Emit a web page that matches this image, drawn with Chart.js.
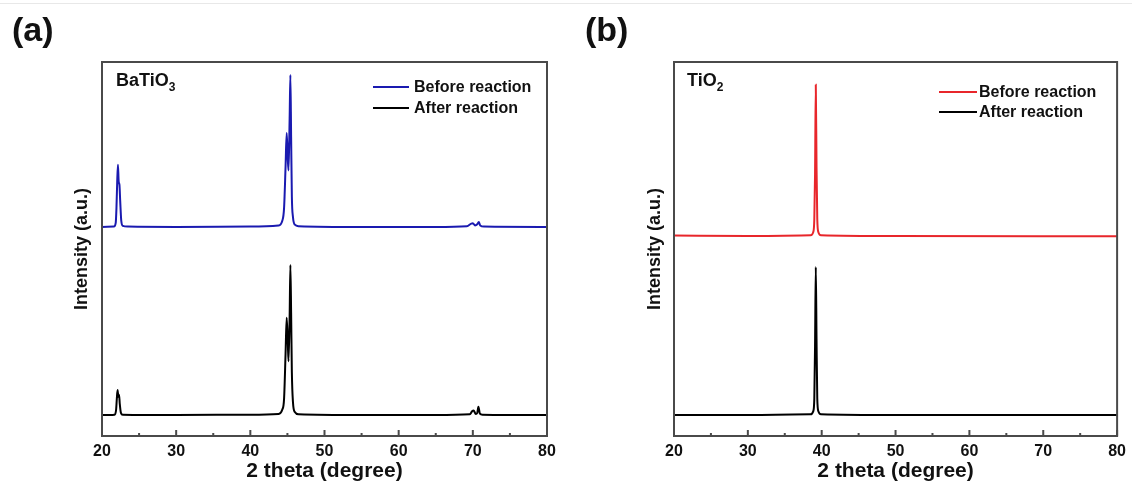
<!DOCTYPE html>
<html>
<head>
<meta charset="utf-8">
<script src="https://cdn.jsdelivr.net/npm/chart.js@4/dist/chart.umd.min.js"></script>
<style>
  body { margin: 0; background: #fff; font-family: Arial, "Liberation Sans", sans-serif; }
  #wrap { position: relative; width: 1132px; height: 486px; overflow: hidden; }
  canvas { position: absolute; top: 0; }
  .lbl { position: absolute; font-weight: bold; color: #111; white-space: nowrap; }
  .panel { font-size: 34px; line-height: 34px; }
  .name { font-size: 18px; line-height: 18px; }
  .name sub { font-size: 12px; vertical-align: -5px; line-height: 0; }
  .leg { font-size: 16px; line-height: 20px; }
  .swatch { position: absolute; height: 2px; }
  #topline { position: absolute; left: 0; top: 3px; width: 1132px; height: 1px; background: #e8e8e8; }
</style>
</head>
<body>
<div id="wrap">
  <div id="topline"></div>
  <canvas id="chart-a" width="566" height="486" style="left:0"></canvas>
  <canvas id="chart-b" width="560" height="486" style="left:572px"></canvas>

  <div class="lbl panel" style="left:12px; top:12px">(a)</div>
  <div class="lbl panel" style="left:585px; top:12px">(b)</div>

  <div class="lbl name" style="left:116px; top:71px">BaTiO<sub>3</sub></div>
  <div class="swatch" style="left:373px; top:86px; width:36px; background:#1a1ab0"></div>
  <div class="lbl leg" style="left:414px; top:77px">Before reaction</div>
  <div class="swatch" style="left:373px; top:107px; width:36px; background:#000"></div>
  <div class="lbl leg" style="left:414px; top:98px">After reaction</div>

  <div class="lbl name" style="left:687px; top:71px">TiO<sub>2</sub></div>
  <div class="swatch" style="left:939px; top:91px; width:38px; background:#e8262b"></div>
  <div class="lbl leg" style="left:979px; top:82px">Before reaction</div>
  <div class="swatch" style="left:939px; top:111px; width:38px; background:#000"></div>
  <div class="lbl leg" style="left:979px; top:102px">After reaction</div>
</div>
<script>
const xTicks = [20, 30, 40, 50, 60, 70, 80];
const minorTicks = [25, 35, 45, 55, 65, 75];

// (a) BaTiO3, before reaction (offset upward)
const batBeforeX = [20, 21.6, 21.85, 21.95, 22.05, 22.15, 22.25, 22.35, 22.45, 22.6, 22.8, 23.5, 30, 40, 43.8, 44.3, 44.55, 44.75, 44.9, 45.05, 45.15, 45.3, 45.4, 45.5, 45.6, 45.75, 46.0, 46.5, 55, 65, 69.2, 69.8, 70.0, 70.3, 70.6, 70.8, 71.0, 71.5, 80];
const batBeforeY = [55.9, 56.0, 57, 61, 68, 72.5, 68, 67.2, 63, 57.5, 56.2, 56.0, 55.9, 56.0, 56.3, 57.5, 61, 72, 81, 74, 71, 85, 96.5, 80, 64, 58.5, 56.5, 56.1, 55.9, 55.9, 56.1, 56.8, 56.9, 56.3, 56.6, 57.2, 56.3, 56.0, 55.9];

// (a) BaTiO3, after reaction
const batAfterX = [20, 21.7, 21.9, 22.0, 22.1, 22.2, 22.3, 22.4, 22.55, 22.8, 30, 40, 43.8, 44.3, 44.55, 44.75, 44.9, 45.05, 45.15, 45.3, 45.4, 45.5, 45.6, 45.75, 46.0, 46.5, 55, 65, 69.6, 69.9, 70.1, 70.4, 70.6, 70.75, 70.95, 71.3, 80];
const batAfterY = [5.6, 5.7, 7, 10, 12.3, 10.5, 11.0, 8.5, 6.2, 5.7, 5.6, 5.7, 5.9, 7, 10, 22, 31.6, 25, 20, 32, 45.7, 33, 17, 9, 6.4, 5.8, 5.6, 5.6, 5.8, 6.6, 6.8, 5.9, 6.2, 7.8, 6.0, 5.7, 5.6];

// (b) TiO2, before reaction (offset upward)
const tioBeforeX = [20, 30, 38.5, 38.85, 39.0, 39.1, 39.2, 39.3, 39.4, 39.55, 39.9, 50, 80];
const tioBeforeY = [53.6, 53.5, 53.7, 54.5, 58, 70, 93.9, 72, 58, 54.5, 53.7, 53.5, 53.4];

// (b) TiO2, after reaction
const tioAfterX = [20, 30, 38.5, 38.85, 39.0, 39.1, 39.2, 39.3, 39.4, 39.55, 39.9, 50, 80];
const tioAfterY = [5.6, 5.6, 5.8, 6.6, 10, 24, 45.2, 26, 10, 6.6, 5.8, 5.6, 5.6];

Chart.defaults.font.family = 'Arial, "Liberation Sans", sans-serif';
Chart.defaults.color = "#111";

function points(xs, ys) {
  return xs.map((x, i) => ({ x: x, y: ys[i] }));
}

const framePlugin = {
  id: "frame",
  afterDraw(chart) {
    const { ctx, chartArea: a, scales } = chart;
    ctx.save();
    ctx.strokeStyle = "#4a4a4a";
    ctx.lineWidth = 2;
    ctx.beginPath();
    for (const v of xTicks) {
      const px = scales.x.getPixelForValue(v);
      ctx.moveTo(px, a.bottom);
      ctx.lineTo(px, a.bottom - 6);
    }
    for (const v of minorTicks) {
      const px = scales.x.getPixelForValue(v);
      ctx.moveTo(px, a.bottom);
      ctx.lineTo(px, a.bottom - 3);
    }
    ctx.stroke();
    ctx.strokeRect(a.left, a.top, a.right - a.left, a.bottom - a.top);
    ctx.restore();
  },
};

function drawPanel(id, before, after, beforeColor, rightPad, yTitlePad) {
  new Chart(document.getElementById(id), {
    type: "line",
    data: {
      datasets: [
        {
          label: "Before reaction",
          data: before,
          borderColor: beforeColor,
          borderWidth: 2,
          pointRadius: 0,
          cubicInterpolationMode: "monotone",
        },
        {
          label: "After reaction",
          data: after,
          borderColor: "#000",
          borderWidth: 2,
          pointRadius: 0,
          cubicInterpolationMode: "monotone",
        },
      ],
    },
    options: {
      responsive: false,
      animation: false,
      devicePixelRatio: 1,
      layout: { padding: { top: 62, right: rightPad, left: 0, bottom: 0 } },
      plugins: { legend: { display: false }, tooltip: { enabled: false } },
      scales: {
        x: {
          type: "linear",
          min: 20,
          max: 80,
          afterFit: (s) => { s.height = 50; },
          afterBuildTicks: (s) => { s.ticks = xTicks.map((v) => ({ value: v })); },
          grid: { display: false, drawTicks: false },
          border: { display: false },
          ticks: { padding: 6, font: { size: 16, weight: "bold" }, color: "#111" },
          title: {
            display: true,
            text: "2 theta (degree)",
            font: { size: 21, weight: "bold" },
            color: "#111",
            padding: { top: 0, bottom: 2 },
          },
        },
        y: {
          min: 0,
          max: 100,
          afterFit: (s) => { s.width = 102; },
          grid: { display: false, drawTicks: false },
          border: { display: false },
          ticks: { display: false },
          title: {
            display: true,
            text: "Intensity (a.u.)",
            font: { size: 18, weight: "bold" },
            color: "#111",
            padding: { top: yTitlePad, bottom: 0 },
          },
        },
      },
    },
    plugins: [framePlugin],
  });
}

drawPanel("chart-a", points(batBeforeX, batBeforeY), points(batAfterX, batAfterY), "#1a1ab0", 19, 71);
drawPanel("chart-b", points(tioBeforeX, tioBeforeY), points(tioAfterX, tioAfterY), "#e8262b", 13, 72);
</script>
</body>
</html>
